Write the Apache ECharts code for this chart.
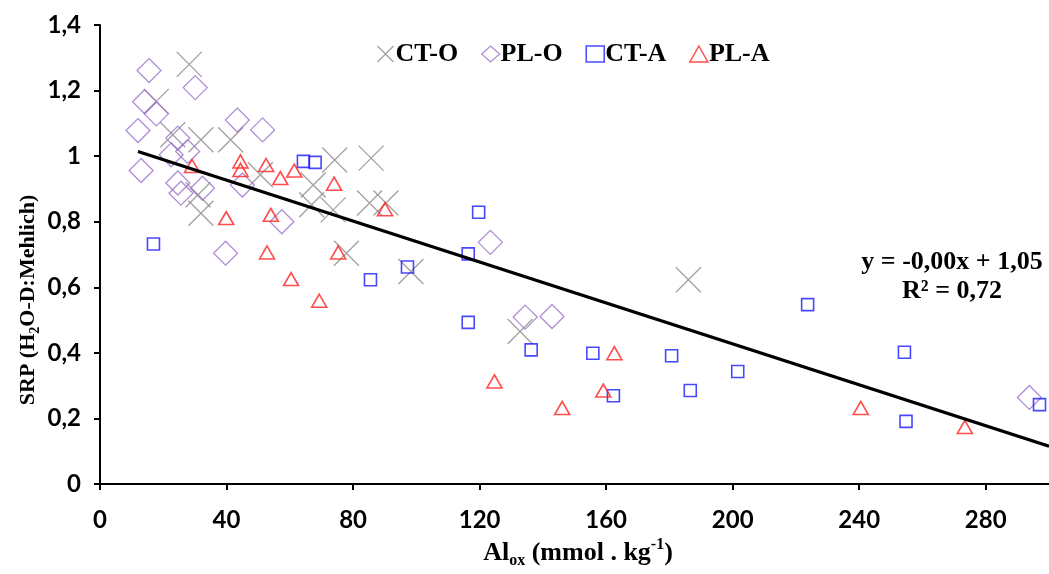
<!DOCTYPE html>
<html>
<head>
<meta charset="utf-8">
<script src="https://cdn.jsdelivr.net/npm/echarts@6/dist/echarts.min.js"></script>
<style>
html,body{margin:0;padding:0;background:#fff;}
#chart{width:1049px;height:574px;}
</style>
</head>
<body>
<div id="chart"></div>
<script>
// ---- data (Al_ox [mmol/kg], SRP ratio) ----
const ctO = [[28.2,1.28],[17.8,1.167],[23,1.065],[31.9,1.05],[41.3,1.05],[31,0.882],[31.9,0.826],[50.7,0.943],[74.2,0.988],[85.7,0.994],[67.4,0.912],[66.9,0.852],[73.7,0.836],[85.2,0.857],[90.4,0.857],[77.9,0.704],[98.3,0.648],[132.8,0.465],[186,0.623]];
const plO = [[15.5,1.261],[30.1,1.209],[14.1,1.166],[17.8,1.129],[12,1.078],[43.4,1.11],[51.4,1.08],[24.6,1.055],[27.7,1.014],[22.5,1.004],[13,0.956],[45,0.912],[24.6,0.918],[25.6,0.887],[32.4,0.902],[39.7,0.704],[57.5,0.80],[123.4,0.737],[134.4,0.509],[142.9,0.511],[293.8,0.264]];
const ctA = [[16.9,0.732],[64.3,0.984],[68,0.981],[85.5,0.623],[97.2,0.662],[116.4,0.702],[119.7,0.829],[116.4,0.493],[136.3,0.409],[155.8,0.399],[162.3,0.269],[180.7,0.391],[186.6,0.285],[201.6,0.343],[223.7,0.547],[254.3,0.402],[254.8,0.191],[297,0.242]];
const plA = [[29.1,0.970],[44.4,0.984],[44.4,0.958],[39.9,0.811],[52.5,0.973],[57,0.933],[61.4,0.956],[74,0.916],[90.1,0.838],[54,0.821],[52.8,0.706],[75.3,0.706],[60.4,0.625],[69.3,0.559],[124.7,0.313],[146.1,0.232],[159.1,0.285],[162.6,0.399],[240.5,0.232],[273.4,0.174]];
const trendLine = [[12,1.014],[300,0.115]];
const seriesNames = ['CT-O','PL-O','CT-A','PL-A'];
const equationText = 'y = -0,00x + 1,05';
const r2Text = 'R² = 0,72';

const serif = '"Liberation Serif", "Times New Roman", serif';
const sans = 'Lato, "Open Sans", sans-serif';
const cGray = '#8a8a8a', cPurple = '#9b72cb', cBlue = '#1a1aff', cRed = '#ff2020';
const xPath = 'path://M0,0L10,10M10,0L0,10';

const chart = echarts.init(document.getElementById('chart'), null, {renderer:'canvas'});
const axisLine = {show:true, onZero:false, lineStyle:{color:'#000', width:2}};
const axisTick = {show:true, length:6, lineStyle:{color:'#000', width:2}};

chart.setOption({
  animation:false,
  backgroundColor:'#fff',
  grid:{left:100, top:25, right:-7, bottom:90, containLabel:false},
  legend:{
    left:370, top:36, itemGap:21, itemWidth:18, itemHeight:16,
    selectedMode:false,
    textStyle:{fontFamily:serif, fontWeight:'bold', fontSize:26, color:'#000', padding:[0,0,0,-4]},
    data:[
      {name:'CT-O', icon:xPath, itemStyle:{color:'none', borderColor:cGray, borderWidth:1.3}},
      {name:'PL-O', icon:'diamond', itemStyle:{color:'none', borderColor:cPurple, borderWidth:1.3}},
      {name:'CT-A', icon:'rect', itemStyle:{color:'none', borderColor:cBlue, borderWidth:1.5}},
      {name:'PL-A', icon:'triangle', itemStyle:{color:'none', borderColor:cRed, borderWidth:1.5}}
    ]
  },
  xAxis:{
    type:'value', min:0, max:300, interval:40,
    axisLine, axisTick, splitLine:{show:false},
    axisLabel:{showMaxLabel:false, margin:24, fontFamily:sans, fontWeight:'bold', fontSize:24, color:'#000'}
  },
  yAxis:{
    type:'value', min:0, max:1.4, interval:0.2,
    axisLine, axisTick, splitLine:{show:false},
    axisLabel:{margin:19, fontFamily:sans, fontWeight:'bold', fontSize:24, color:'#000',
      formatter:v => String(+v.toFixed(1)).replace('.', ',')}
  },
  graphic:[
    {type:'text', x:578, y:553, style:{
      text:'{m|Al}{sub|ox}{m| (mmol . kg}{sup|-1}{m|)}',
      textAlign:'center', textVerticalAlign:'middle',
      rich:{
        m:{fontFamily:serif, fontWeight:'bold', fontSize:26, lineHeight:32, fill:'#000'},
        sub:{fontFamily:serif, fontWeight:'bold', fontSize:16, lineHeight:16, verticalAlign:'bottom', fill:'#000'},
        sup:{fontFamily:serif, fontWeight:'bold', fontSize:16, lineHeight:16, verticalAlign:'top', fill:'#000'}
      }
    }},
    {type:'text', x:28, y:300, rotation:Math.PI/2, style:{
      text:'{m|SRP (H}{sub|2}{m|O-D:Mehlich)}',
      textAlign:'center', textVerticalAlign:'middle',
      rich:{
        m:{fontFamily:serif, fontWeight:'bold', fontSize:22, lineHeight:28, fill:'#000'},
        sub:{fontFamily:serif, fontWeight:'bold', fontSize:14, lineHeight:14, verticalAlign:'bottom', fill:'#000'}
      }
    }},
    {type:'text', x:952, y:262, style:{text:equationText, textAlign:'center', textVerticalAlign:'middle',
      fontFamily:serif, fontWeight:'bold', fontSize:26, fill:'#000'}},
    {type:'text', x:952, y:291, style:{text:r2Text, textAlign:'center', textVerticalAlign:'middle',
      fontFamily:serif, fontWeight:'bold', fontSize:26, fill:'#000'}}
  ],
  series:[
    {name:seriesNames[0], type:'scatter', data:ctO, symbol:xPath, symbolSize:25, z:2,
      itemStyle:{color:'none', borderColor:cGray, borderWidth:1.3}},
    {name:seriesNames[1], type:'scatter', data:plO, symbol:'diamond', symbolSize:24, z:3,
      itemStyle:{color:'none', borderColor:cPurple, borderWidth:1.3}},
    {name:seriesNames[2], type:'scatter', data:ctA, symbol:'rect', symbolSize:12, z:4,
      itemStyle:{color:'none', borderColor:cBlue, borderWidth:1.6}},
    {name:seriesNames[3], type:'scatter', data:plA, symbol:'triangle', symbolSize:[15,13], z:5,
      itemStyle:{color:'none', borderColor:cRed, borderWidth:1.6}},
    {name:'trend', type:'line', data:trendLine, symbol:'none', z:10, silent:true,
      lineStyle:{color:'#000', width:3.2}}
  ]
});
</script>
</body>
</html>
